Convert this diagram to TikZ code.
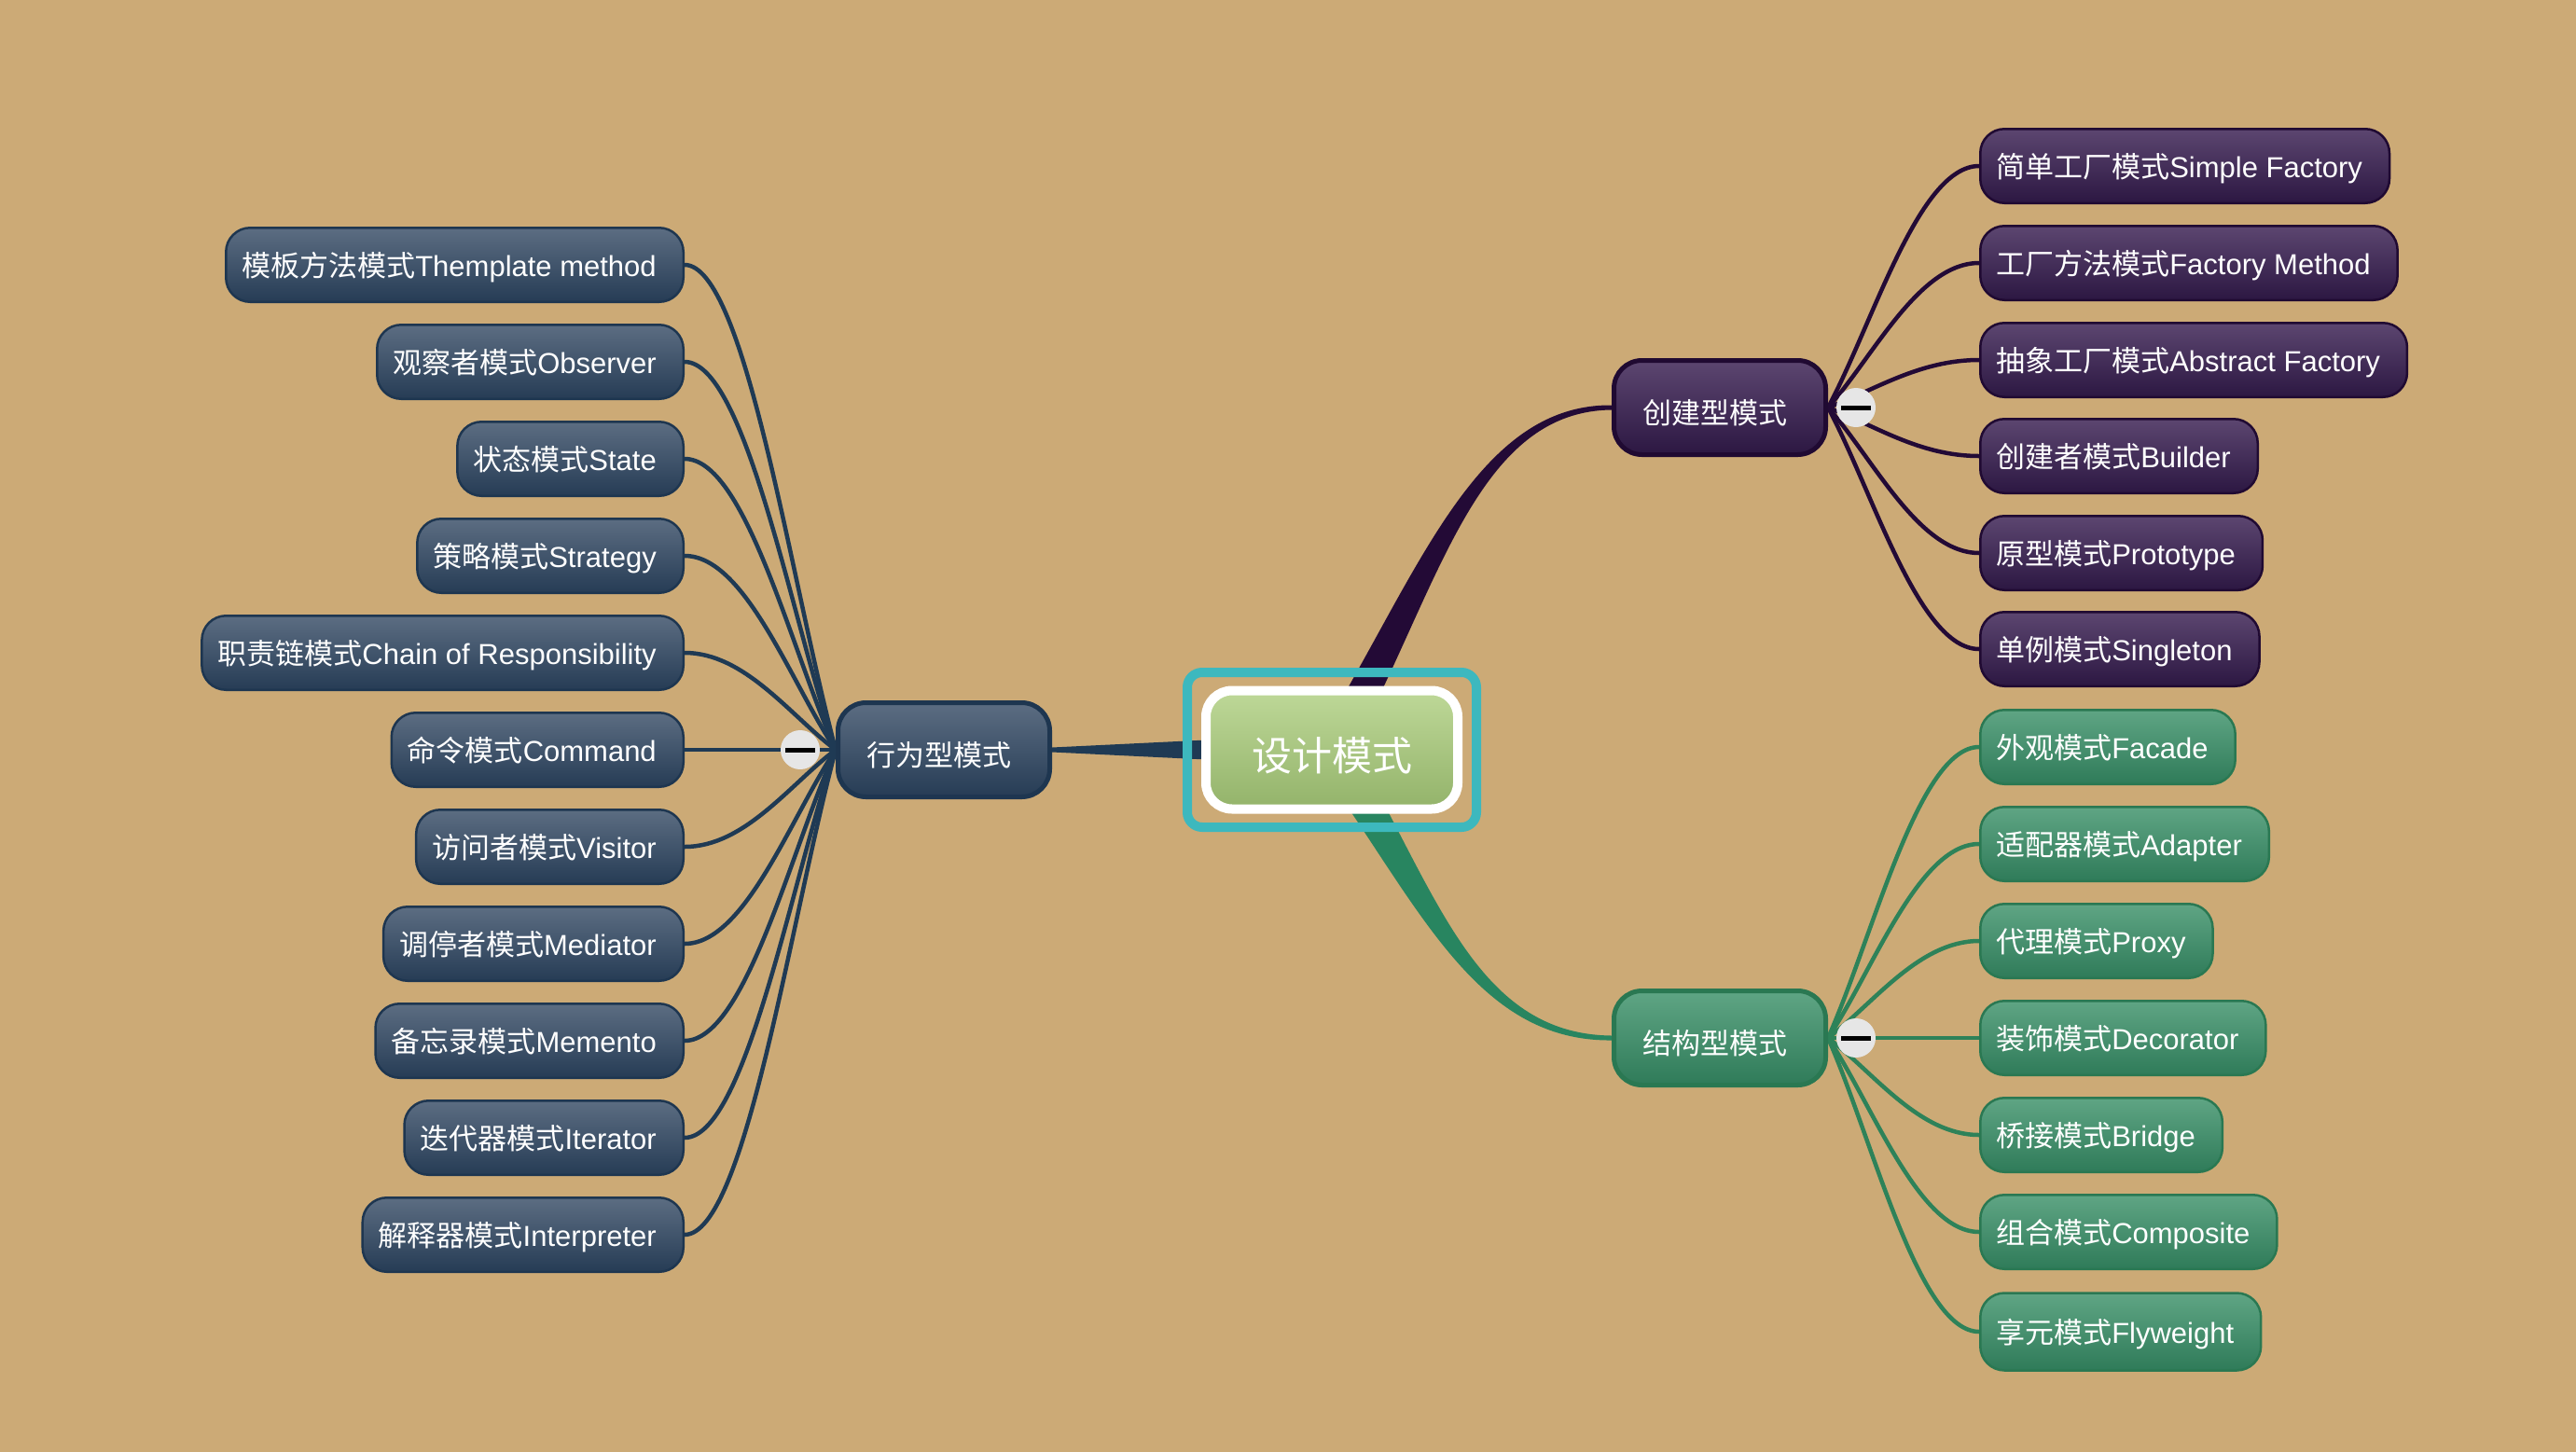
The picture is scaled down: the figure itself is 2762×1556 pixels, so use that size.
\documentclass[tikz,border=0pt]{standalone}
\usepackage{fontspec}
\setmainfont{Liberation Sans}
\newfontfamily\cjk{Noto Sans CJK SC}
\usetikzlibrary{calc}
\pgfdeclarelayer{bgl}
\pgfsetlayers{bgl,main}
\definecolor{bg}{RGB}{204,170,118}
\definecolor{pBorder}{RGB}{32,10,50}
\definecolor{pTop}{RGB}{92,70,112}
\definecolor{pBot}{RGB}{44,23,66}
\definecolor{pLine}{RGB}{35,10,54}
\definecolor{nBorder}{RGB}{30,54,80}
\definecolor{nTop}{RGB}{92,109,130}
\definecolor{nBot}{RGB}{38,60,85}
\definecolor{nLine}{RGB}{31,58,84}
\definecolor{gBorder}{RGB}{42,120,82}
\definecolor{gTop}{RGB}{95,165,132}
\definecolor{gBot}{RGB}{47,123,89}
\definecolor{gLine}{RGB}{46,130,89}
\definecolor{gMain}{RGB}{40,133,96}
\definecolor{teal}{RGB}{61,184,190}
\definecolor{cTop}{RGB}{190,216,152}
\definecolor{cBot}{RGB}{147,179,106}
\definecolor{hubgray}{RGB}{230,230,230}
\newcommand\lf[2]{{\cjk #1}#2}
\newcommand\mycon[3]{\draw[#1] let \p1=(#2), \p2=(#3) in (\p1) .. controls ({\x1+0.3*(\x2-\x1)},{\y1+0.35*(\y2-\y1)}) and ({\x1+0.6*(\x2-\x1)},{\y2}) .. (\p2);}
\begin{document}
\begin{tikzpicture}[x=1pt,y=-1pt,
  leaf/.style={rounded corners=26pt, line width=2.5pt, minimum height=79.5pt,
    inner xsep=17pt, inner ysep=0pt, text height=29pt, text depth=5pt, text=white,
    font=\fontsize{31}{37}\selectfont, execute at end node={\hspace{12pt}}},
  leafP/.style={leaf, draw=pBorder, top color=pTop, bottom color=pBot},
  leafN/.style={leaf, draw=nBorder, top color=nTop, bottom color=nBot},
  leafG/.style={leaf, draw=gBorder, top color=gTop, bottom color=gBot},
  branch/.style={rounded corners=30pt, line width=5pt, minimum width=227pt,
    minimum height=101pt, inner sep=0pt, text height=38pt, text depth=4pt, text=white,
    font=\cjk\fontsize{31}{37}\selectfont, execute at end node={\hspace{10pt}}},
  brP/.style={branch, draw=pBorder, top color=pTop, bottom color=pBot},
  brN/.style={branch, draw=nBorder, top color=nTop, bottom color=nBot},
  brG/.style={branch, draw=gBorder, top color=gTop, bottom color=gBot},
  hub/.style={circle, fill=hubgray, minimum size=42pt, inner sep=0pt},
  hubbar/.style={line width=5pt, black},
  conP/.style={pLine, line width=4.5pt},
  conN/.style={nLine, line width=4.5pt},
  conG/.style={gLine, line width=4.5pt}]
\useasboundingbox (0,0) rectangle (2762,1556);
\begin{pgfonlayer}{bgl}
\fill[bg] (-3,-3) rectangle (2765,1559);
\end{pgfonlayer}

% centre
\node[rounded corners=16pt, line width=10pt, draw=teal, minimum width=310pt, minimum height=166pt] (frm) at (1428,804) {};
\node[rounded corners=28pt, draw=white, line width=10pt, top color=cTop, bottom color=cBot,
  minimum width=270pt, minimum height=127pt, inner sep=0pt, text height=48pt, text depth=4pt, text=white,
  font=\cjk\fontsize{43}{50}\selectfont] (ctr) at (1428,804) {设计模式\hspace{12pt}};

% branches
\node[brP] (cre) at (1844,437) {创建型模式};
\node[brN] (beh) at (1012,804) {行为型模式};
\node[brG] (str) at (1844,1113) {结构型模式};

% right purple leaves
\node[leafP, anchor=west] (p1) at (2122,178) {\lf{简单工厂模式}{Simple Factory}};
\node[leafP, anchor=west] (p2) at (2122,282) {\lf{工厂方法模式}{Factory Method}};
\node[leafP, anchor=west] (p3) at (2122,386) {\lf{抽象工厂模式}{Abstract Factory}};
\node[leafP, anchor=west] (p4) at (2122,489) {\lf{创建者模式}{Builder}};
\node[leafP, anchor=west] (p5) at (2122,593) {\lf{原型模式}{Prototype}};
\node[leafP, anchor=west] (p6) at (2122,696) {\lf{单例模式}{Singleton}};

% right green leaves
\node[leafG, anchor=west] (g1) at (2122,801) {\lf{外观模式}{Facade}};
\node[leafG, anchor=west] (g2) at (2122,905) {\lf{适配器模式}{Adapter}};
\node[leafG, anchor=west] (g3) at (2122,1009) {\lf{代理模式}{Proxy}};
\node[leafG, anchor=west] (g4) at (2122,1113) {\lf{装饰模式}{Decorator}};
\node[leafG, anchor=west] (g5) at (2122,1217) {\lf{桥接模式}{Bridge}};
\node[leafG, anchor=west] (g6) at (2122,1321) {\lf{组合模式}{Composite}};
\node[leafG, anchor=west, minimum height=83pt] (g7) at (2122,1428) {\lf{享元模式}{Flyweight}};

% left navy leaves
\node[leafN, anchor=east] (b1) at (734,284) {\lf{模板方法模式}{Themplate method}};
\node[leafN, anchor=east] (b2) at (734,388) {\lf{观察者模式}{Observer}};
\node[leafN, anchor=east] (b3) at (734,492) {\lf{状态模式}{State}};
\node[leafN, anchor=east] (b4) at (734,596) {\lf{策略模式}{Strategy}};
\node[leafN, anchor=east] (b5) at (734,700) {\lf{职责链模式}{Chain of Responsibility}};
\node[leafN, anchor=east] (b6) at (734,804) {\lf{命令模式}{Command}};
\node[leafN, anchor=east] (b7) at (734,908) {\lf{访问者模式}{Visitor}};
\node[leafN, anchor=east] (b8) at (734,1012) {\lf{调停者模式}{Mediator}};
\node[leafN, anchor=east] (b9) at (734,1116) {\lf{备忘录模式}{Memento}};
\node[leafN, anchor=east] (b10) at (734,1220) {\lf{迭代器模式}{Iterator}};
\node[leafN, anchor=east] (b11) at (734,1324) {\lf{解释器模式}{Interpreter}};

% hubs
\node[hub] (hP) at (1990,437) {};
\node[hub] (hG) at (1990,1113) {};
\node[hub] (hN) at (858,804) {};
\foreach \h in {hP,hG,hN}{
  \draw[hubbar] ([xshift=-16pt]\h.center) -- ([xshift=16pt]\h.center);
}

\begin{pgfonlayer}{bgl}
% main branches
\fill[nLine] ($(ctr.center)+(0,-17)$) -- ($(beh.east)+(0,-2.5)$) -- ($(beh.east)+(0,2.5)$) -- ($(ctr.center)+(0,17)$) -- cycle;
\fill[pLine] ($(ctr.center)+(-16.4,-9.6)$) .. controls (1518,623) and (1580,433) .. ($(cre.west)+(0,-2.5)$)
  -- ($(cre.west)+(0,2.5)$) .. controls (1580,441) and (1542,637) .. ($(ctr.center)+(16.4,9.6)$) -- cycle;
\fill[gMain] ($(ctr.center)+(17.6,-11.5)$) .. controls (1540,953) and (1580,1109) .. ($(str.west)+(0,-2.5)$)
  -- ($(str.west)+(0,2.5)$) .. controls (1580,1117) and (1520,967) .. ($(ctr.center)+(-17.6,11.5)$) -- cycle;
% leaf connectors
\foreach \lv in {p1,p2,p3,p4,p5,p6}{ \mycon{conP}{cre.east}{\lv.west} }
\foreach \lv in {g1,g2,g3,g4,g5,g6,g7}{ \mycon{conG}{str.east}{\lv.west} }
\foreach \lv in {b1,b2,b3,b4,b5,b6,b7,b8,b9,b10,b11}{ \mycon{conN}{beh.west}{\lv.east} }
\end{pgfonlayer}
\end{tikzpicture}
\end{document}
